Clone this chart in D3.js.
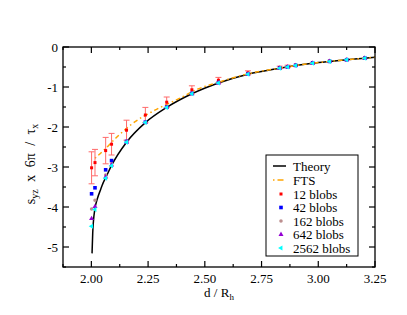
<!DOCTYPE html>
<html><head><meta charset="utf-8">
<script src="https://cdn.jsdelivr.net/npm/d3@7"></script>
<style>body{margin:0;background:#fff}svg{display:block}text{font-family:"Liberation Serif","DejaVu Serif",serif}</style>
</head><body>
<svg id="c" width="407" height="315"></svg>
<script>
// ---- data ----
const xTicks = [2.00, 2.25, 2.50, 2.75, 3.00, 3.25];
const xTickLabels = ["2.00", "2.25", "2.50", "2.75", "3.00", "3.25"];
const xMinor = [1.875, 2.125, 2.375, 2.625, 2.875, 3.125];
const yTicks = [0, -1, -2, -3, -4, -5];
const yTickLabels = ["0", "-1", "-2", "-3", "-4", "-5"];
const yMinor = [-0.5, -1.5, -2.5, -3.5, -4.5, -5.5];

const theoryX = [2.003, 2.006, 2.009, 2.016, 2.026, 2.041, 2.051, 2.063, 2.089, 2.155, 2.238, 2.332, 2.443, 2.56, 2.69, 2.83, 2.90, 2.975, 3.05, 3.125, 3.205, 3.25];
const theoryY = [-5.16, -4.65, -4.37, -4.03, -3.80, -3.56, -3.41, -3.27, -2.96, -2.38, -1.89, -1.51, -1.17, -0.90, -0.68, -0.53, -0.465, -0.405, -0.36, -0.32, -0.28, -0.255];

const ftsX = [2.016, 2.055, 2.107, 2.15, 2.18, 2.28, 2.39, 2.47, 2.56, 2.69, 2.83, 2.90, 2.975, 3.05, 3.125, 3.205, 3.25];
const ftsY = [-2.78, -2.58, -2.28, -2.06, -1.92, -1.58, -1.28, -1.05, -0.88, -0.67, -0.53, -0.465, -0.405, -0.36, -0.32, -0.28, -0.255];

const dataX = [2.001, 2.016, 2.063, 2.089, 2.155, 2.238, 2.332, 2.443, 2.56, 2.69, 2.83, 2.865, 2.90, 2.975, 3.05, 3.125, 3.205];
const blobs12 = [-3.02, -2.89, -2.59, -2.43, -2.08, -1.70, -1.38, -1.07, -0.83, -0.645, -0.51, -0.485, -0.45, -0.39, -0.35, -0.31, -0.275];
const err12 = [0.40, 0.33, 0.33, 0.27, 0.25, 0.19, 0.13, 0.10, 0.07, 0.05, 0.03, 0.03, 0.02, 0.02, 0.02, 0.015, 0.015];
const blobs42 = [-3.67, -3.52, -3.07, -2.84, -2.36, -1.88, -1.50, -1.16, -0.89, -0.675, -0.525, -0.50, -0.46, -0.40, -0.36, -0.32, -0.28];
const blobs162 = [-4.05, -3.83, -3.20, -2.92, -2.37, -1.89, -1.51, -1.17, -0.90, -0.68, -0.53, -0.50, -0.465, -0.405, -0.36, -0.32, -0.28];
const blobs642 = [-4.29, -3.99, -3.25, -2.95, -2.38, -1.89, -1.51, -1.17, -0.90, -0.68, -0.53, -0.50, -0.465, -0.405, -0.36, -0.32, -0.28];
const blobs2562 = [-4.48, -4.06, -3.28, -2.97, -2.38, -1.89, -1.51, -1.17, -0.90, -0.68, -0.53, -0.50, -0.465, -0.405, -0.36, -0.32, -0.28];

const legendLabels = ["Theory", "FTS", "12 blobs", "42 blobs", "162 blobs", "642 blobs", "2562 blobs"];

// ---- drawing ----
const svg = d3.select("#c");
const L = 63, R = 375, T = 47, B = 267;
const x = d3.scaleLinear().domain([1.875, 3.25]).range([L, R]);
const y = d3.scaleLinear().domain([-5.5, 0]).range([B, T]);

const g = svg.append("g");

const line = d3.line().x(d => x(d[0])).y(d => y(d[1])).curve(d3.curveMonotoneX);
g.append("path").attr("d", line(d3.zip(theoryX, theoryY)))
  .attr("fill", "none").attr("stroke", "#000").attr("stroke-width", 1.5);
g.append("path").attr("d", line(d3.zip(ftsX, ftsY)))
  .attr("fill", "none").attr("stroke", "#ffa500").attr("stroke-width", 1.5)
  .attr("stroke-dasharray", "1.5,3,4.5,3");

const eb = g.append("g").attr("stroke", "#ff6a6a").attr("stroke-width", 1);
dataX.forEach((xv, i) => {
  const e = err12[i];
  if (e < 0.025) return;
  const px = x(xv), y1 = y(blobs12[i] + e), y2 = y(blobs12[i] - e);
  eb.append("line").attr("x1", px).attr("x2", px).attr("y1", y1).attr("y2", y2);
  eb.append("line").attr("x1", px - 3).attr("x2", px + 3).attr("y1", y1).attr("y2", y1);
  eb.append("line").attr("x1", px - 3).attr("x2", px + 3).attr("y1", y2).attr("y2", y2);
});

const series = [
  {vals: blobs12, color: "#ff0000", sym: d3.symbolSquare, size: 9},
  {vals: blobs42, color: "#0000ff", sym: d3.symbolSquare, size: 13},
  {vals: blobs162, color: "#bc8f8f", sym: d3.symbolCircle, size: 10},
  {vals: blobs642, color: "#9400d3", sym: d3.symbolTriangle, size: 11},
  {vals: blobs2562, color: "#00ffff", sym: d3.symbolTriangle, size: 11, rot: -90},
];
series.forEach(s => {
  const sym = d3.symbol().type(s.sym).size(s.size);
  g.append("g").selectAll("path").data(d3.zip(dataX, s.vals)).join("path")
    .attr("d", sym)
    .attr("transform", d => `translate(${x(d[0])},${y(d[1])})` + (s.rot ? ` rotate(${s.rot})` : ""))
    .attr("fill", s.color);
});

svg.append("rect").attr("x", L).attr("y", T).attr("width", R - L).attr("height", B - T)
  .attr("fill", "none").attr("stroke", "#000").attr("stroke-width", 1.3);

const tk = svg.append("g").attr("stroke", "#000").attr("stroke-width", 1.2);
function xt(v, len) {
  tk.append("line").attr("x1", x(v)).attr("x2", x(v)).attr("y1", B).attr("y2", B - len);
  tk.append("line").attr("x1", x(v)).attr("x2", x(v)).attr("y1", T).attr("y2", T + len);
}
function yt(v, len) {
  tk.append("line").attr("y1", y(v)).attr("y2", y(v)).attr("x1", L).attr("x2", L + len);
  tk.append("line").attr("y1", y(v)).attr("y2", y(v)).attr("x1", R).attr("x2", R - len);
}
xTicks.forEach(v => xt(v, 6));
xMinor.forEach(v => xt(v, 3));
yTicks.forEach(v => yt(v, 6));
yMinor.forEach(v => yt(v, 3));

const fs = 13;
svg.append("g").selectAll("text").data(xTicks).join("text")
  .attr("x", d => x(d)).attr("y", B + 16).attr("text-anchor", "middle")
  .attr("font-size", fs).text((d, i) => xTickLabels[i]);
svg.append("g").selectAll("text").data(yTicks).join("text")
  .attr("x", L - 5).attr("y", d => y(d) + 4.5).attr("text-anchor", "end")
  .attr("font-size", fs).text((d, i) => yTickLabels[i]);

const xl = svg.append("text").attr("x", 219).attr("y", 297).attr("text-anchor", "middle").attr("font-size", fs);
xl.append("tspan").text("d / R");
xl.append("tspan").attr("font-size", 9).attr("dy", 3).text("h");

const yl = svg.append("text").attr("transform", "translate(35,164) rotate(-90)")
  .attr("text-anchor", "middle").attr("font-size", 14).attr("word-spacing", 4);
yl.append("tspan").text("s");
yl.append("tspan").attr("font-size", 10).attr("dy", 3).text("yz");
yl.append("tspan").attr("dy", -3).text(" x 6π / τ");
yl.append("tspan").attr("font-size", 10).attr("dy", 3).text("x");

const lg = svg.append("g");
lg.append("rect").attr("x", 266).attr("y", 155).attr("width", 92).attr("height", 101)
  .attr("fill", "#fff").attr("stroke", "#000").attr("stroke-width", 1);
const ly = [166, 180, 194, 207.5, 221, 234.5, 248];
legendLabels.forEach((t, i) => {
  lg.append("text").attr("x", 293).attr("y", ly[i] + 4.5).attr("font-size", fs).text(t);
});
lg.append("line").attr("x1", 273).attr("x2", 286).attr("y1", ly[0]).attr("y2", ly[0]).attr("stroke", "#000").attr("stroke-width", 1.5);
lg.append("line").attr("x1", 273).attr("x2", 286).attr("y1", ly[1]).attr("y2", ly[1]).attr("stroke", "#ffa500").attr("stroke-width", 1.5).attr("stroke-dasharray", "1.5,3,6,3");
series.forEach((s, i) => {
  lg.append("path").attr("d", d3.symbol().type(s.sym).size(s.size)())
    .attr("transform", `translate(281,${ly[i + 2]})` + (s.rot ? ` rotate(${s.rot})` : ""))
    .attr("fill", s.color);
});
</script>
</body></html>
